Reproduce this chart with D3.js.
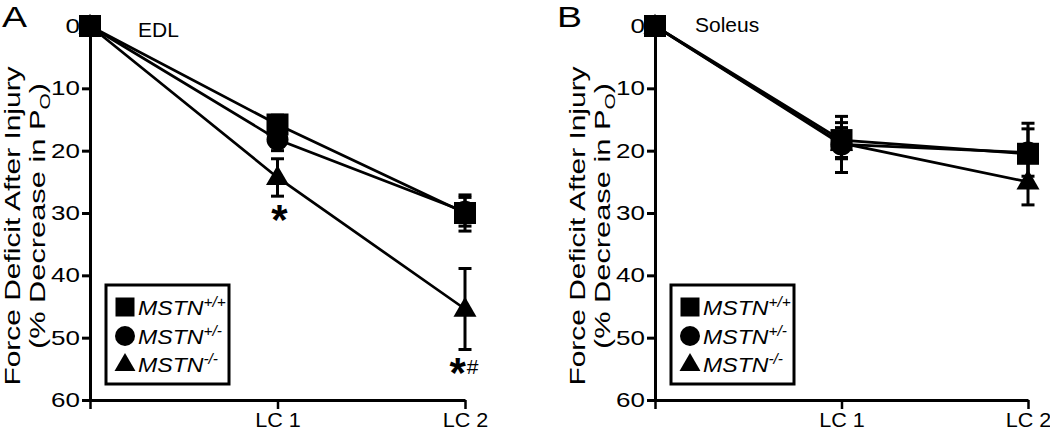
<!DOCTYPE html>
<html><head><meta charset="utf-8">
<script src="https://cdn.jsdelivr.net/npm/d3@7/dist/d3.min.js"></script>
<style>
body{margin:0;background:#fff;}
text{font-family:"Liberation Sans",Arial,Helvetica,sans-serif;fill:#000;}
</style></head>
<body><svg id="chart" width="1050" height="432"></svg>
<script>
// ---- data ----
const categories = ["", "LC 1", "LC 2"];
const yTicks = [0, 10, 20, 30, 40, 50, 60];
const genotypes = ["MSTN", "MSTN", "MSTN"];
const superscripts = ["+/+", "+/-", "-/-"];
const symbolsName = ["square", "circle", "triangle"];

// EDL (panel A)
const edlWT = [0, 15.8, 30.0];
const edlWTse = [0, 1.5, 2.9];
const edlHet = [0, 18.2, 29.8];
const edlHetSe = [0, 1.8, 2.3];
const edlKO = [0, 24.3, 45.4];
const edlKOse = [0, 3.0, 6.5];
const edlSig = [null, "*", "*#"];

// Soleus (panel B)
const solWT = [0, 18.3, 20.5];
const solWTse = [0, 2.8, 4.9];
const solHet = [0, 19.0, 20.3];
const solHetSe = [0, 4.5, 3.8];
const solKO = [0, 18.8, 25.0];
const solKOse = [0, 2.5, 3.7];
const solSig = [null, null, null];

const panels = [
  {letter: "A", muscle: "EDL", x0: 90, x1: 465, letterX: 2, muscleX: 138, muscleY: 37,
   means: [edlWT, edlHet, edlKO], ses: [edlWTse, edlHetSe, edlKOse], sig: edlSig},
  {letter: "B", muscle: "Soleus", x0: 655, x1: 1028, letterX: 557, muscleX: 695, muscleY: 32,
   means: [solWT, solHet, solKO], ses: [solWTse, solHetSe, solKOse], sig: solSig}
];

const svg = d3.select("#chart");
const yTop = 26, yBot = 400;
const y = d3.scaleLinear().domain([0, 60]).range([yTop, yBot]);

const symType = {square: d3.symbolSquare, circle: d3.symbolCircle, triangle: d3.symbolTriangle};
const symSize = {square: 22 * 22, circle: Math.PI * 11 * 11, triangle: 230};
const legSize = {square: 19 * 19, circle: Math.PI * 10 * 10, triangle: 190};

panels.forEach(p => {
  const g = svg.append("g");
  const x = d3.scalePoint().domain(d3.range(categories.length)).range([p.x0, p.x1]);

  // y axis
  const sx = 1.3;
  const yAxis = d3.axisLeft(y).tickValues(yTicks).tickSize(8).tickSizeOuter(0).tickPadding(11);
  const ga = g.append("g").attr("transform", `translate(${p.x0},0)`).call(yAxis);
  ga.select(".domain").attr("stroke-width", 3);
  ga.selectAll(".tick line").attr("stroke-width", 3);
  ga.selectAll(".tick text").style("font-size", "20px").attr("fill", "#000")
    .attr("x", -10 / sx).attr("transform", `scale(${sx},1)`);

  // x axis
  const xAxis = d3.axisBottom(x).tickFormat(i => categories[i]).tickSize(9).tickSizeOuter(0).tickPadding(4);
  const gx = g.append("g").attr("transform", `translate(0,${yBot})`).call(xAxis);
  gx.select(".domain").attr("stroke-width", 3);
  gx.selectAll(".tick line").attr("stroke-width", 2.5);
  gx.selectAll(".tick text").style("font-size", "20px").attr("fill", "#000")
    .attr("transform", "scale(1.08,1)").attr("x", 0);
  gx.selectAll(".tick text").attr("dy", "0.68em");

  // y title
  const ty = 226;
  g.append("text").attr("transform", `translate(${p.x0 - 70},${ty}) rotate(-90) scale(1.36,1)`)
    .attr("text-anchor", "middle").style("font-size", "22px").text("Force Deficit After Injury");
  const t2 = g.append("text").attr("transform", `translate(${p.x0 - 45},${ty - 10}) rotate(-90) scale(1.4,1)`)
    .attr("text-anchor", "middle").style("font-size", "22px");
  t2.append("tspan").text("(% Decrease in P");
  t2.append("tspan").attr("dy", 5).style("font-size", "15px").text("O");
  t2.append("tspan").attr("dy", -5).text(")");

  // panel letter and muscle name
  g.append("text").attr("transform", `translate(${p.letterX},27) scale(1.25,1)`)
    .style("font-size", "30px").text(p.letter);
  g.append("text").attr("x", p.muscleX).attr("y", p.muscleY).style("font-size", "21px").text(p.muscle);

  const line = d3.line().x((d, i) => x(i)).y(d => y(d));
  const order = [2, 1, 0];
  // lines
  order.forEach(s => {
    g.append("path").datum(p.means[s]).attr("d", line)
      .attr("fill", "none").attr("stroke", "#000").attr("stroke-width", 2.7);
  });
  // error bars
  order.forEach(s => {
    p.means[s].forEach((m, i) => {
      const se = p.ses[s][i];
      if (!se) return;
      const cx = x(i), capW = 6.5;
      const eg = g.append("g").attr("stroke", "#000").attr("stroke-width", 3);
      eg.append("line").attr("x1", cx).attr("x2", cx).attr("y1", y(m - se)).attr("y2", y(m + se));
      eg.append("line").attr("x1", cx - capW).attr("x2", cx + capW).attr("y1", y(m - se)).attr("y2", y(m - se));
      eg.append("line").attr("x1", cx - capW).attr("x2", cx + capW).attr("y1", y(m + se)).attr("y2", y(m + se));
    });
  });
  // markers
  order.forEach(s => {
    const nm = symbolsName[s];
    g.selectAll(null).data(p.means[s]).enter().append("path")
      .attr("d", d3.symbol().type(symType[nm]).size(symSize[nm]))
      .attr("transform", (d, i) => `translate(${x(i)},${y(d) + (nm === "triangle" ? 1 : 0)})`)
      .attr("fill", "#000");
  });

  // significance marks
  p.sig.forEach((s, i) => {
    if (!s) return;
    const ko = p.means[2][i] + p.ses[2][i];
    const two = s.length > 1;
    const t = g.append("text").attr("text-anchor", "middle")
      .attr("x", x(i) + (two ? -1 : 2)).attr("y", y(ko) + (two ? 37 : 38));
    t.append("tspan").style("font-size", "42px").style("font-weight", "bold").text("*");
    if (two) t.append("tspan").attr("dx", 1).attr("dy", -13).style("font-size", "21px").text(s.slice(1));
  });

  // legend
  const lx = p.x0 + 16, ly = 285;
  g.append("rect").attr("x", lx).attr("y", ly).attr("width", 123).attr("height", 99)
    .attr("fill", "#fff").attr("stroke", "#000").attr("stroke-width", 3);
  const rowY = [307, 336, 364];
  genotypes.forEach((gname, s) => {
    const nm = symbolsName[s];
    g.append("path").attr("d", d3.symbol().type(symType[nm]).size(legSize[nm]))
      .attr("transform", `translate(${lx + 19},${rowY[s] + (nm === "triangle" ? 1 : 0)})`).attr("fill", "#000");
    const sl = 1.1;
    const t = g.append("text").attr("transform", `translate(${lx + 32},${rowY[s] + 8}) scale(${sl},1)`)
      .style("font-size", "21px").style("font-style", "italic");
    t.append("tspan").text(gname);
    t.append("tspan").attr("dy", -8).style("font-size", "14px").text(superscripts[s]);
  });
});
</script></body></html>
